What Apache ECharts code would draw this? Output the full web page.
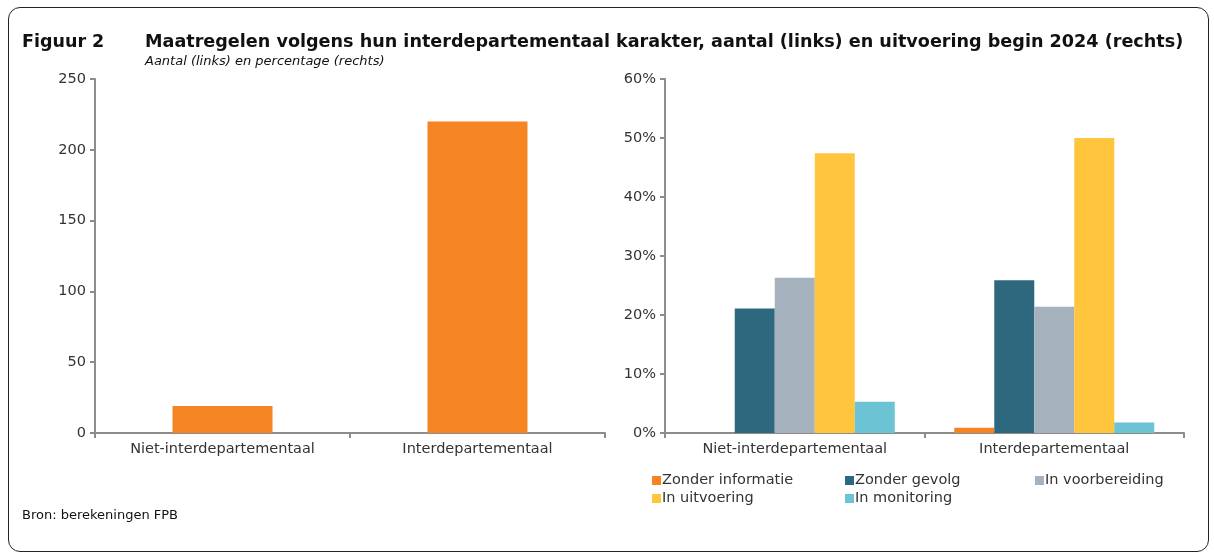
<!DOCTYPE html>
<html>
<head>
<meta charset="utf-8">
<script src="https://cdn.jsdelivr.net/npm/echarts@6/dist/echarts.min.js"></script>
<style>
  html, body { margin: 0; padding: 0; background: #fff; }
  #frame {
    position: absolute; left: 8px; top: 7px; width: 1201px; height: 545px;
    border: 1.5px solid #222; border-radius: 12px; box-sizing: border-box;
  }
  #chart { position: absolute; left: 0; top: 0; width: 1214px; height: 557px; }
</style>
</head>
<body>
<div id="frame"></div>
<div id="chart"></div>
<script>
const categories = ['Niet-interdepartementaal', 'Interdepartementaal'];
const aantal = [19, 220];

const statusNames = ['Zonder informatie', 'Zonder gevolg', 'In voorbereiding', 'In uitvoering', 'In monitoring'];
const statusColors = ['#F58423', '#2E687E', '#A6B1BE', '#FFC63D', '#6BC3D3'];
// percentage per status, [niet-interdepartementaal, interdepartementaal]
const zonderInformatie = [0, 0.9];
const zonderGevolg = [21.1, 25.9];
const inVoorbereiding = [26.3, 21.4];
const inUitvoering = [47.4, 50.0];
const inMonitoring = [5.3, 1.8];
const statusValues = [zonderInformatie, zonderGevolg, inVoorbereiding, inUitvoering, inMonitoring];

const fontFamily = '"DejaVu Sans", sans-serif';
const axisLineColor = '#8c8c8c';
const labelColor = '#333';

const chart = echarts.init(document.getElementById('chart'));

const xAxisBase = {
  type: 'category',
  data: categories,
  axisLine: { lineStyle: { color: axisLineColor, width: 2 } },
  axisTick: { show: true, length: 5, lineStyle: { color: axisLineColor, width: 2 } },
  axisLabel: { color: labelColor, fontSize: 14.5, fontFamily: fontFamily, margin: 9 }
};

const yAxisBase = {
  type: 'value',
  axisLine: { show: true, lineStyle: { color: axisLineColor, width: 2 } },
  axisTick: { show: true, length: 5, lineStyle: { color: axisLineColor, width: 2 } },
  splitLine: { show: false },
  axisLabel: { color: labelColor, fontSize: 14.5, fontFamily: fontFamily, margin: 9 }
};

const option = {
  animation: false,
  title: [
    {
      text: 'Figuur 2',
      left: 22, top: 33, padding: 0,
      textStyle: { fontSize: 17.5, fontWeight: 'bold', color: '#111', fontFamily: fontFamily }
    },
    {
      text: 'Maatregelen volgens hun interdepartementaal karakter, aantal (links) en uitvoering begin 2024 (rechts)',
      left: 145, top: 33, padding: 0,
      textStyle: { fontSize: 17.6, fontWeight: 'bold', color: '#111', fontFamily: fontFamily }
    },
    {
      text: 'Aantal (links) en percentage (rechts)',
      left: 145, top: 55, padding: 0,
      textStyle: { fontSize: 13, fontStyle: 'italic', fontWeight: 'normal', color: '#111', fontFamily: fontFamily }
    },
    {
      text: 'Bron: berekeningen FPB',
      left: 22, top: 509, padding: 0,
      textStyle: { fontSize: 13, fontWeight: 'normal', color: '#111', fontFamily: fontFamily }
    }
  ],
  legend: [
    {
      data: [statusNames[0], statusNames[3]],
      orient: 'vertical', left: 652, top: 473, itemGap: 3
    },
    {
      data: [statusNames[1], statusNames[4]],
      orient: 'vertical', left: 845, top: 473, itemGap: 3
    },
    {
      data: [statusNames[2]],
      orient: 'vertical', left: 1035, top: 473, itemGap: 3
    }
  ].map(l => Object.assign(l, {
    icon: 'rect', itemWidth: 9, itemHeight: 9, padding: 0,
    textStyle: { fontSize: 14.5, color: labelColor, fontFamily: fontFamily, padding: [0, 0, 0, -4] }
  })),
  grid: [
    { left: 95, right: 609, top: 79, bottom: 124 },
    { left: 665, right: 30, top: 79, bottom: 124 }
  ],
  xAxis: [
    Object.assign({ gridIndex: 0 }, xAxisBase),
    Object.assign({ gridIndex: 1 }, xAxisBase)
  ],
  yAxis: [
    Object.assign({}, yAxisBase, { gridIndex: 0, min: 0, max: 250, interval: 50 }),
    Object.assign({}, yAxisBase, {
      gridIndex: 1, min: 0, max: 60, interval: 10,
      axisLabel: Object.assign({}, yAxisBase.axisLabel, { formatter: '{value}%' })
    })
  ],
  series: [
    {
      name: 'Aantal',
      type: 'bar',
      xAxisIndex: 0, yAxisIndex: 0,
      data: aantal,
      barWidth: 100,
      itemStyle: { color: '#F58423' }
    }
  ].concat(statusNames.map((name, i) => ({
    name: name,
    type: 'bar',
    xAxisIndex: 1, yAxisIndex: 1,
    data: statusValues[i],
    barWidth: 40,
    barGap: '0%',
    itemStyle: { color: statusColors[i] }
  })))
};

chart.setOption(option);
</script>
</body>
</html>
